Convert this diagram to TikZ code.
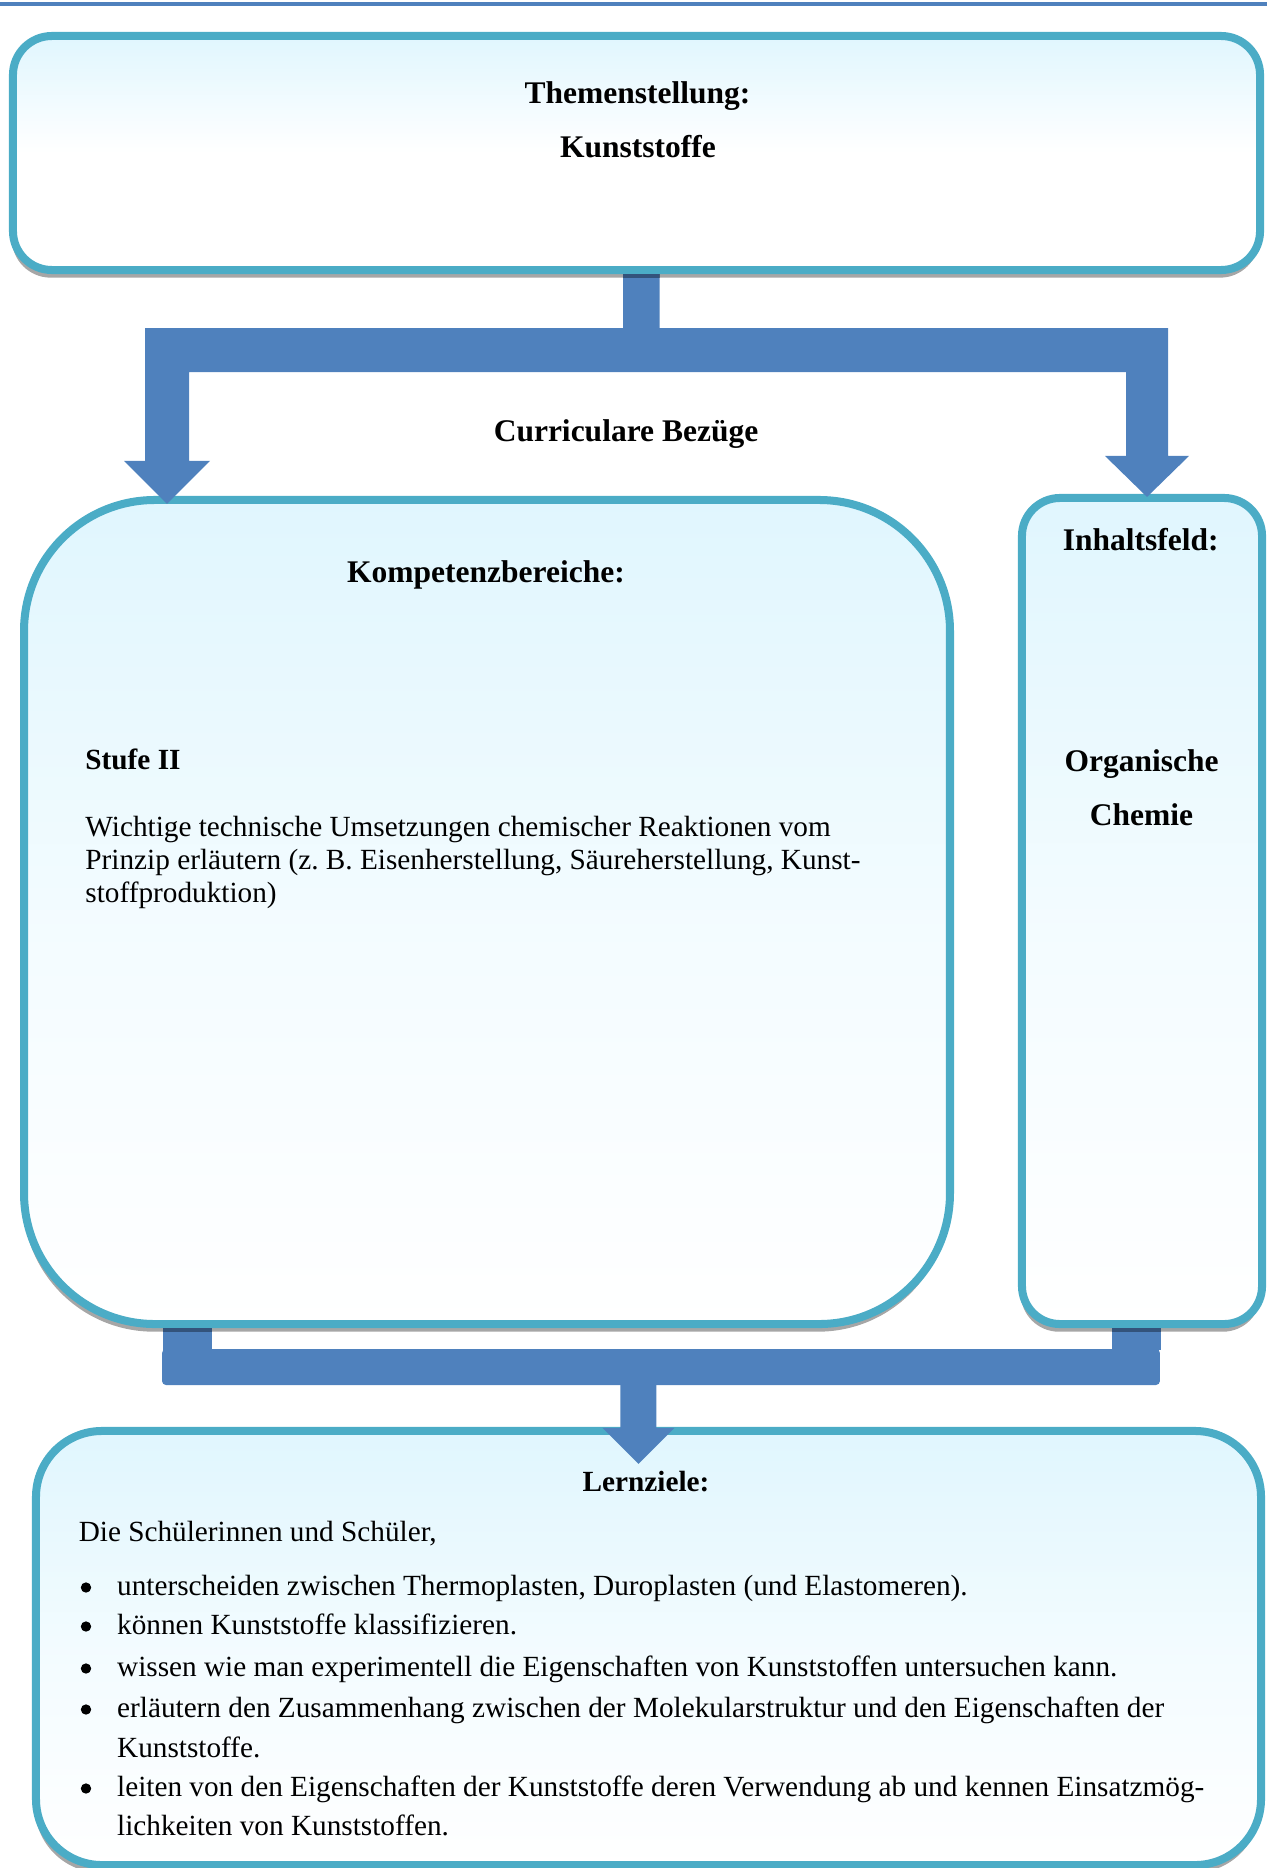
\documentclass[tikz,border=0pt]{standalone}
\usepackage{fontspec}
\setmainfont{Liberation Serif}
\usetikzlibrary{calc,shadows}
\definecolor{bordc}{RGB}{75,172,198}
\definecolor{arrc}{RGB}{79,129,189}
\definecolor{lcyan}{RGB}{224,246,254}
\begin{document}
\begin{tikzpicture}[x=0.4444pt,y=-0.4444pt,
  box/.style={draw=bordc, line width=3.56pt, inner sep=0pt, outer sep=0pt,
    top color=lcyan, bottom color=white, middle color=lcyan!40!white,
    drop shadow={shadow xshift=-0.5pt, shadow yshift=-3.4pt, opacity=0.35, fill=black}},
  arrowc/.style={fill=arrc},
  shband/.style={fill=black, opacity=0.35},
  hd/.style={font=\fontsize{14}{17}\selectfont\bfseries, inner sep=0pt, anchor=base},
  hdsmall/.style={font=\fontsize{13}{15}\selectfont\bfseries, inner sep=0pt, anchor=base},
  tx/.style={font=\fontsize{13}{15}\selectfont, inner sep=0pt, anchor=base west},
  txb/.style={font=\fontsize{13}{15}\selectfont\bfseries, inner sep=0pt, anchor=base west},
  bul/.style={circle, fill=black, inner sep=0pt, minimum size=4.6pt}]
\useasboundingbox (0,0) rectangle (1267,1868);
% top rule
\fill[arrc] (0,2) rectangle (1267,6);
% boxes
\node[box, top color=lcyan, bottom color=white, middle color=white, minimum width=554.2pt, minimum height=104.0pt, rounded corners=17.3pt] (T) at (636.5,153) {};
\node[box, minimum width=411.5pt, minimum height=366.2pt, rounded corners=58.2pt] (K) at (487,912) {};
\node[box, minimum width=106.7pt, minimum height=367.1pt, rounded corners=16.9pt] (I) at (1142,911) {};
\node[box, minimum width=544.4pt, minimum height=192.9pt, rounded corners=29.3pt] (L) at (648.5,1648) {};
% connector anchors
\coordinate (tout) at ($(T.south)+(4.75,4)$);
\coordinate (bar) at ($(tout)+(0,54)$);
\coordinate (kin) at ($(K.north west)+(143,4)$);
\coordinate (iin) at ($(I.north)+(5,-1)$);
\coordinate (kout) at ($(K.south west)+(163.5,4)$);
\coordinate (iout) at ($(I.south west)+(114.5,4)$);
\coordinate (lin) at ($(L.north west)+(602.5,33)$);
% top split arrow
\fill[arrowc] ($(tout)+(-18.25,0)$) -- ($(bar)+(-18.25,0)$) -- ($(kin |- bar)+(-22,0)$)
  -- ($(kin)+(-22,-43)$) -- ($(kin)+(-43,-43)$) -- (kin) -- ($(kin)+(43,-43)$) -- ($(kin)+(22,-43)$)
  -- ($(kin |- bar)+(22,44)$) -- ($(iin |- bar)+(-21,44)$) -- ($(iin)+(-21,-41)$) -- ($(iin)+(-42,-41)$)
  -- (iin) -- ($(iin)+(42,-41)$) -- ($(iin)+(21,-41)$) -- ($(iin |- bar)+(21,0)$)
  -- ($(bar)+(18.25,0)$) -- ($(tout)+(18.25,0)$) -- cycle;
\fill[shband] ($(tout)+(-18.25,0)$) rectangle ($(tout)+(18.25,3.8)$);
% bottom joining connector
\fill[arrowc] ($(kout)+(-24.5,0)$) rectangle ($(kout)+(24.5,22)$);
\fill[arrowc] ($(iout)+(-24.5,0)$) rectangle ($(iout)+(24.5,22)$);
\fill[arrowc, rounded corners=1.8pt] ($(kout)+(-25.5,21)$) rectangle ($(iout)+(23.5,57)$);
\fill[shband] ($(kout)+(-24.5,0)$) rectangle ($(kout)+(24.5,4)$);
\fill[shband] ($(iout)+(-24.5,0)$) rectangle ($(iout)+(24.5,4)$);
\fill[arrowc] ($(lin)+(-18,-79)$) -- ($(lin)+(-18,-36)$) -- ($(lin)+(-36,-36)$) -- (lin)
  -- ($(lin)+(36,-36)$) -- ($(lin)+(18,-36)$) -- ($(lin)+(18,-79)$) -- cycle;
% texts
\node[hd] (t1) at (637.5,103.3) {Themenstellung:};
\node[hd] (t2) at (638,157.3) {Kunststoffe};
\node[hd] (cb) at (626,441) {Curriculare Bezüge};
\node[hd] (kh) at (486,582.7) {Kompetenzbereiche:};
\node[hd] (ih) at (1140.7,550.7) {Inhaltsfeld:};
\node[hd] (o1) at (1141.5,771.7) {Organische};
\node[hd] (o2) at (1141.5,825) {Chemie};
\node[txb] (st) at (85,769.3) {Stufe II};
\node[tx] (w1) at (85,836) {Wichtige technische Umsetzungen chemischer Reaktionen vom};
\node[tx] (w2) at (85,869.3) {Prinzip erläutern (z.~B. Eisenherstellung, Säureherstellung, Kunst-};
\node[tx] (w3) at (85,902.7) {stoffproduktion)};
\node[hdsmall] (lz) at (646,1491.7) {Lernziele:};
\node[tx] (ds) at (78.3,1541.7) {Die Schülerinnen und Schüler,};
\node[bul] (b1) at (86,1587.5) {};
\node[tx] (l1) at (116.7,1595) {unterscheiden zwischen Thermoplasten, Duroplasten (und Elastomeren).};
\node[bul] (b2) at (86,1626.5) {};
\node[tx] (l2) at (116.7,1634) {können Kunststoffe klassifizieren.};
\node[bul] (b3) at (86,1668.5) {};
\node[tx] (l3) at (116.7,1676) {wissen wie man experimentell die Eigenschaften von Kunststoffen untersuchen kann.};
\node[bul] (b4) at (86,1709.5) {};
\node[tx] (l4) at (116.7,1717) {erläutern den Zusammenhang zwischen der Molekularstruktur und den Eigenschaften der};
\node[tx] (l4b) at (116.7,1757) {Kunststoffe.};
\node[bul] (b5) at (86,1788.5) {};
\node[tx] (l5) at (116.7,1796) {leiten von den Eigenschaften der Kunststoffe deren Verwendung ab und kennen Einsatzmög-};
\node[tx] (l5b) at (116.7,1835) {lichkeiten von Kunststoffen.};
\end{tikzpicture}
\end{document}
